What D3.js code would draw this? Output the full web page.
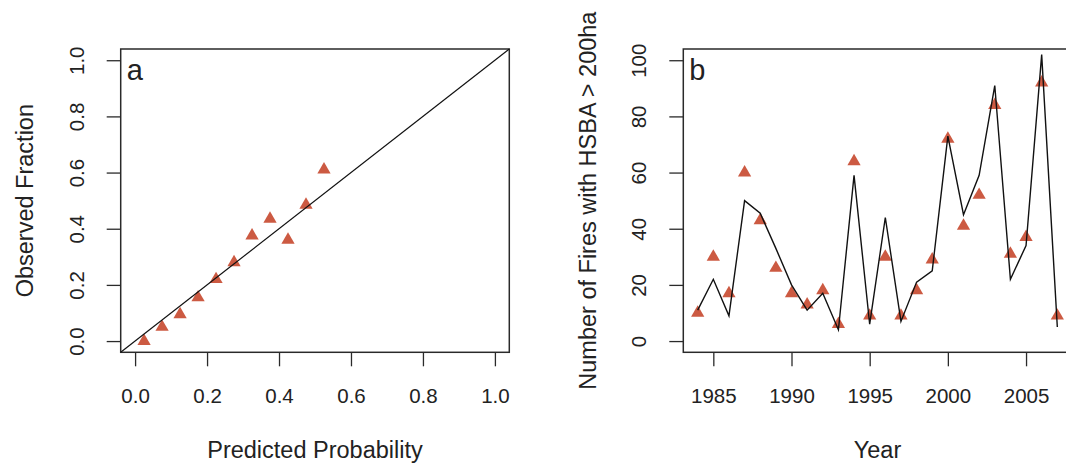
<!DOCTYPE html>
<html>
<head>
<meta charset="utf-8">
<script src="https://cdn.jsdelivr.net/npm/d3@7"></script>
<style>
  html, body { margin: 0; padding: 0; background: #fff; }
  svg { display: block; }
  text { font-family: "Liberation Sans", Arial, Helvetica, sans-serif; fill: #222; }
</style>
</head>
<body>
<svg id="chart" width="1066" height="463"></svg>
<script>
// ---- Panel a data (calibration) ----
const predictedProb = [0.025, 0.075, 0.125, 0.175, 0.225, 0.275, 0.325, 0.375, 0.425, 0.475, 0.525];
const observedFrac  = [0.0, 0.05, 0.095, 0.155, 0.22, 0.28, 0.375, 0.435, 0.36, 0.485, 0.61];
const ticksA = [0.0, 0.2, 0.4, 0.6, 0.8, 1.0];

// ---- Panel b data (annual counts) ----
const years     = [1984, 1985, 1986, 1987, 1988, 1989, 1990, 1991, 1992, 1993, 1994, 1995,
                   1996, 1997, 1998, 1999, 2000, 2001, 2002, 2003, 2004, 2005, 2006, 2007];
const observedN = [10, 30, 17, 60, 43, 26, 17, 13, 18, 6, 64, 9,
                   30, 9, 18, 29, 72, 41, 52, 84, 31, 37, 92, 9];
const predictedN = [11, 22, 9, 50, 45.5, 33, 20, 11, 17, 4, 59, 6,
                    44, 7, 21, 25, 73, 45, 59, 91, 22, 34, 102, 5];
const yearTicks = [1985, 1990, 1995, 2000, 2005];
const countTicks = [0, 20, 40, 60, 80, 100];

const svg = d3.select("#chart");
const markColor = "#cc5a42";
const axisColor = "#2a2a2a";
const tri = d3.symbol().type(d3.symbolTriangle).size(76);

function panel(opts) {
  const { x, y, xTicks, yTicks, xFmt, yFmt, xTitle, yTitle, letter } = opts;
  const [x0, x1] = x.range();
  const [yb, yt] = y.range();
  const g = svg.append("g");

  // frame
  g.append("rect")
    .attr("x", x0).attr("y", yt)
    .attr("width", x1 - x0).attr("height", yb - yt)
    .attr("fill", "none").attr("stroke", axisColor).attr("stroke-width", 1.5);

  // x axis
  const xa = g.append("g").attr("transform", `translate(0,${yb})`)
    .call(d3.axisBottom(x).tickValues(xTicks).tickFormat(xFmt).tickSizeInner(14).tickSizeOuter(0).tickPadding(0));
  xa.select(".domain").remove();
  xa.selectAll("line").attr("stroke", axisColor).attr("stroke-width", 1.3);
  xa.selectAll("text").attr("y", 51).attr("dy", 0).attr("font-size", 20.5).style("fill", "#222");

  // y axis
  const ya = g.append("g").attr("transform", `translate(${x0},0)`)
    .call(d3.axisLeft(y).tickValues(yTicks).tickFormat(yFmt).tickSizeInner(14).tickSizeOuter(0));
  ya.select(".domain").remove();
  ya.selectAll("line").attr("stroke", axisColor).attr("stroke-width", 1.3);
  ya.selectAll("text")
    .attr("x", null).attr("dy", null)
    .attr("text-anchor", "middle")
    .attr("transform", "translate(-37,0) rotate(-90)")
    .attr("font-size", 20.5).style("fill", "#222");

  // titles
  g.append("text")
    .attr("x", (x0 + x1) / 2).attr("y", yb + 106)
    .attr("text-anchor", "middle").attr("font-size", 23.5)
    .text(xTitle);
  g.append("text")
    .attr("transform", `translate(${x0 - 87.5},${(yb + yt) / 2}) rotate(-90)`)
    .attr("text-anchor", "middle").attr("font-size", 23.5)
    .text(yTitle);

  // panel letter
  g.append("text")
    .attr("x", x0 + 6).attr("y", yt + 31)
    .attr("font-size", 29)
    .text(letter);
  return g;
}

// ---- Panel a ----
const xa = d3.scaleLinear().domain([-0.04, 1.04]).range([120.7, 509.3]);
const ya = d3.scaleLinear().domain([-0.04, 1.04]).range([352.3, 49]);
const fmt1 = d3.format(".1f");
const ga = panel({ x: xa, y: ya, xTicks: ticksA, yTicks: ticksA, xFmt: fmt1, yFmt: fmt1,
  xTitle: "Predicted Probability", yTitle: "Observed Fraction", letter: "a" });

ga.selectAll("path.pt").data(predictedProb).join("path")
  .attr("class", "pt")
  .attr("d", tri)
  .attr("transform", (d, i) => `translate(${xa(d)},${ya(observedFrac[i])})`)
  .attr("fill", markColor);

// 1:1 line across the plot region
ga.append("line")
  .attr("x1", xa(-0.04)).attr("y1", ya(-0.04))
  .attr("x2", xa(1.04)).attr("y2", ya(1.04))
  .attr("stroke", "#111").attr("stroke-width", 1.2);

// ---- Panel b ----
const xb = d3.scaleLinear().domain([1983.08, 2007.92]).range([683.3, 1071.7]);
const yb = d3.scaleLinear().domain([-4, 104]).range([352.3, 49]);
const gb = panel({ x: xb, y: yb, xTicks: yearTicks, yTicks: countTicks, xFmt: d3.format("d"), yFmt: d3.format("d"),
  xTitle: "Year", yTitle: "Number of Fires with HSBA > 200ha", letter: "b" });

gb.selectAll("path.pt").data(years).join("path")
  .attr("class", "pt")
  .attr("d", tri)
  .attr("transform", (d, i) => `translate(${xb(d)},${yb(observedN[i])})`)
  .attr("fill", markColor);

gb.append("path")
  .datum(years.map((d, i) => [d, predictedN[i]]))
  .attr("d", d3.line().x(d => xb(d[0])).y(d => yb(d[1])))
  .attr("fill", "none").attr("stroke", "#111").attr("stroke-width", 1.4)
  .attr("stroke-linejoin", "miter");
</script>
</body>
</html>
